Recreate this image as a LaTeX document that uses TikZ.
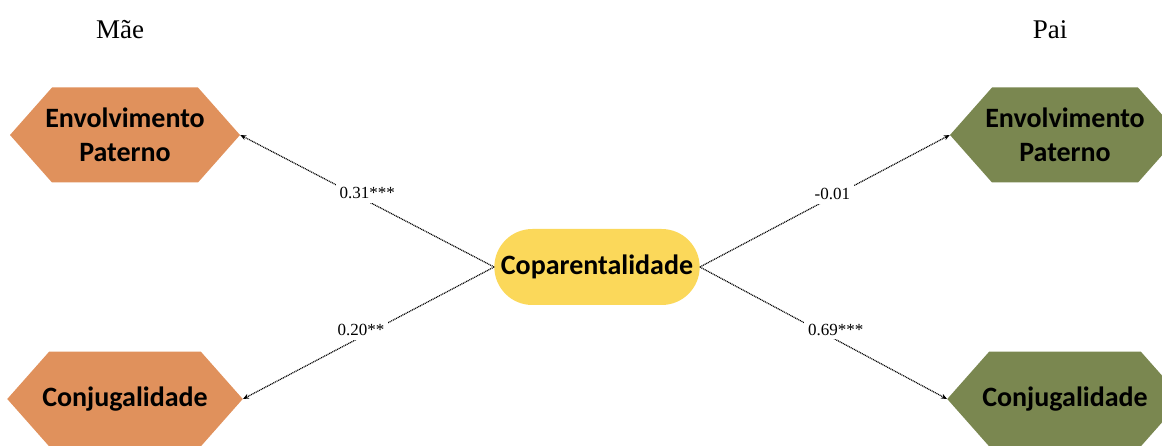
\documentclass[tikz,border=0pt]{standalone}
\usepackage{fontspec}
\setmainfont{Liberation Serif}
\newfontfamily\caixafont{Carlito}
\usetikzlibrary{shapes.symbols,shapes.misc,arrows.meta}

\definecolor{corMae}{HTML}{E0915C}
\definecolor{corPai}{HTML}{7A8750}
\definecolor{corCop}{HTML}{FBD85A}

\begin{document}
\begin{tikzpicture}[x=1pt,y=-1pt,
  hexa/.style={signal, signal to=west and east, signal pointer angle=97,
    minimum width=230pt, minimum height=95pt, inner xsep=-7pt, inner ysep=0pt, align=center,
    font=\caixafont\bfseries\fontsize{28}{34}\selectfont},
  seta/.style={-{Stealth[length=6pt,width=5pt]}, dash pattern=on 1pt off 0.8pt, line width=1.2pt, black},
  rotulo/.style={fill=white, inner sep=4pt, font=\fontsize{17}{19}\selectfont}]

\useasboundingbox (0,0) rectangle (1162,446);
\clip (0,0) rectangle (1162,446);

\node (mae) at (120,30) {\fontsize{27}{29}\selectfont Mãe};
\node (pai) at (1050,30) {\fontsize{27}{29}\selectfont Pai};

\node[hexa, fill=corMae] (envm) at (125,135) {Envolvimento\\Paterno};
\node[hexa, fill=corMae] (conm) at (125,399) {Conjugalidade};
\node[hexa, fill=corPai] (envp) at (1065,135) {Envolvimento\\Paterno};
\node[hexa, fill=corPai] (conp) at (1065,399) {Conjugalidade};

\node[rounded rectangle, fill=corCop, minimum width=212pt, minimum height=76pt,
  font=\caixafont\bfseries\fontsize{28}{30}\selectfont] (cop) at (597,267) {Coparentalidade};

\draw[seta] (cop.west) -- node[rotulo, pos=0.5, yshift=8pt] {0.31***} (envm.east);
\draw[seta] (cop.west) -- node[rotulo, pos=0.53, yshift=7pt] {0.20**} (conm.east);
\draw[seta] (cop.east) -- node[rotulo, pos=0.53, yshift=3pt] {-0.01} (envp.west);
\draw[seta] (cop.east) -- node[rotulo, pos=0.55, yshift=10pt] {0.69***} (conp.west);

\end{tikzpicture}
\end{document}
